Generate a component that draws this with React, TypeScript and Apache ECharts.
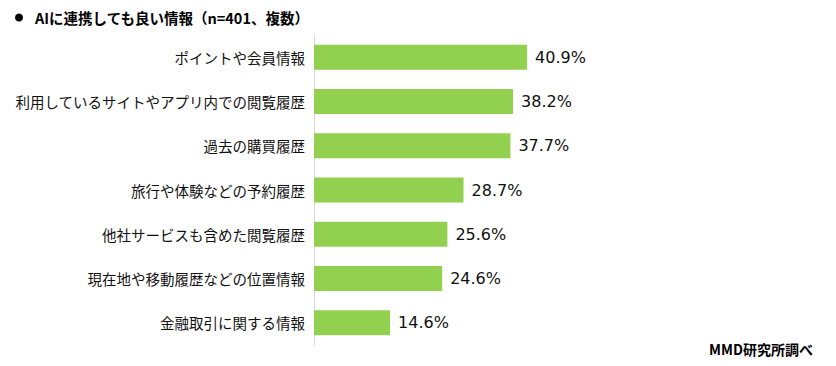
import React, { useEffect, useRef } from "react";
import * as echarts from "echarts";

const categories = [
  "ポイントや会員情報",
  "利用しているサイトやアプリ内での閲覧履歴",
  "過去の購買履歴",
  "旅行や体験などの予約履歴",
  "他社サービスも含めた閲覧履歴",
  "現在地や移動履歴などの位置情報",
  "金融取引に関する情報",
];
const values = [40.9, 38.2, 37.7, 28.7, 25.6, 24.6, 14.6];
const title = "AIに連携しても良い情報（n=401、複数）";
const source = "MMD研究所調べ";

export default function App() {
  const ref = useRef<HTMLDivElement>(null);
  useEffect(() => {
    if (!ref.current) return;
    const chart = echarts.init(ref.current, undefined, { renderer: "svg" });
    const font = "'Noto Sans CJK JP', 'Noto Sans', sans-serif";
    chart.setOption({
      animation: false,
      textStyle: { fontFamily: font },
      graphic: [
        {
          type: "circle",
          shape: { cx: 11, cy: 9.5, r: 4 },
          style: { fill: "#000" },
        },
        {
          type: "text",
          left: 27,
          top: 2,
          style: { text: title, fontSize: 14.5, fontWeight: "bold", fill: "#000", fontFamily: font },
        },
        {
          type: "text",
          right: 15,
          top: 334,
          style: { text: source, fontSize: 14, fontWeight: "bold", fill: "#000", fontFamily: font },
        },
      ],
      grid: { left: 306, top: 27, height: 310, right: 253.5, containLabel: false },
      xAxis: {
        type: "value",
        min: 0,
        max: 50,
        show: false,
      },
      yAxis: {
        type: "category",
        data: categories,
        inverse: true,
        axisLine: { show: true, lineStyle: { color: "#d9d9d9", width: 1 } },
        axisTick: { show: false },
        axisLabel: { color: "#111", fontSize: 14.5, margin: 9, fontFamily: font },
      },
      series: [
        {
          type: "bar",
          data: values,
          barWidth: 25,
          itemStyle: { color: "#92d050" },
          label: {
            show: true,
            position: "right",
            distance: 8,
            formatter: (p: any) => p.value.toFixed(1) + "%",
            color: "#111",
            fontSize: 16,
            fontFamily: "'DejaVu Sans', sans-serif",
          },
        },
      ],
    });
    return () => chart.dispose();
  }, []);
  return <div ref={ref} style={{ width: 820, height: 350 }} />;
}
